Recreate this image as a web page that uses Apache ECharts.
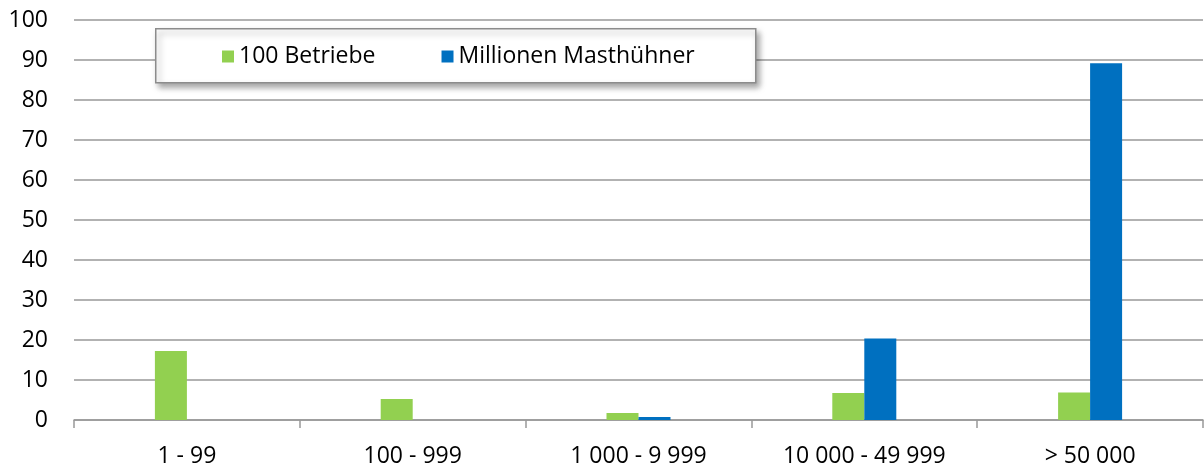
<!DOCTYPE html>
<html>
<head>
<meta charset="utf-8">
<script src="https://cdn.jsdelivr.net/npm/echarts@6/dist/echarts.min.js"></script>
<style>
  html, body { margin: 0; padding: 0; background: #fff; }
  #main { width: 1204px; height: 469px; }
</style>
</head>
<body>
<div id="main"></div>
<script>
// Größenklassen
const categories = ['1 - 99', '100 - 999', '1 000 - 9 999', '10 000 - 49 999', '> 50 000']
const betriebe = [17.25, 5.25, 1.75, 6.75, 6.9] // 100 Betriebe
const masthuehner = [0, 0, 0.75, 20.4, 89.2] // Millionen Masthühner
const yTicks = { min: 0, max: 100, interval: 10 }

const font = '"Open Sans", "Noto Sans", sans-serif'
const gridColor = '#999999'

const myChart = echarts.init(document.getElementById('main'))
myChart.setOption({
  animation: false,
  textStyle: { fontFamily: font },
  grid: { left: 74, right: 1, top: 20, bottom: 49 },
  graphic: [{
    type: 'rect',
    left: 155,
    top: 28,
    z: 10,
    shape: { width: 600, height: 54 },
    style: {
      fill: '#fff',
      stroke: '#8c8c8c',
      lineWidth: 1.5,
      shadowBlur: 6,
      shadowOffsetX: 3,
      shadowOffsetY: 4,
      shadowColor: 'rgba(0,0,0,0.35)'
    }
  }],
  legend: {
    left: 217,
    top: 40,
    z: 20,
    itemWidth: 12,
    itemHeight: 12,
    itemGap: 66,
    icon: 'rect',
    textStyle: { fontSize: 23, color: '#000', fontFamily: font }
  },
  xAxis: {
    type: 'category',
    data: categories,
    axisLine: { lineStyle: { color: gridColor, width: 1.5 } },
    axisTick: { show: true, length: 8, lineStyle: { color: gridColor, width: 1.5 } },
    axisLabel: { color: '#000', fontSize: 23, margin: 25, fontFamily: font }
  },
  yAxis: {
    type: 'value',
    min: yTicks.min,
    max: yTicks.max,
    interval: yTicks.interval,
    axisLine: { show: false },
    axisTick: { show: false },
    axisLabel: { color: '#000', fontSize: 23, margin: 26, fontFamily: font },
    splitLine: { lineStyle: { color: gridColor, width: 1.5 } }
  },
  series: [{
    name: '100 Betriebe',
    type: 'bar',
    data: betriebe,
    barWidth: 32,
    barGap: '0%',
    itemStyle: { color: '#92D050' }
  }, {
    name: 'Millionen Masthühner',
    type: 'bar',
    data: masthuehner,
    barWidth: 32,
    barGap: '0%',
    itemStyle: { color: '#0070C0' }
  }]
})
</script>
</body>
</html>
